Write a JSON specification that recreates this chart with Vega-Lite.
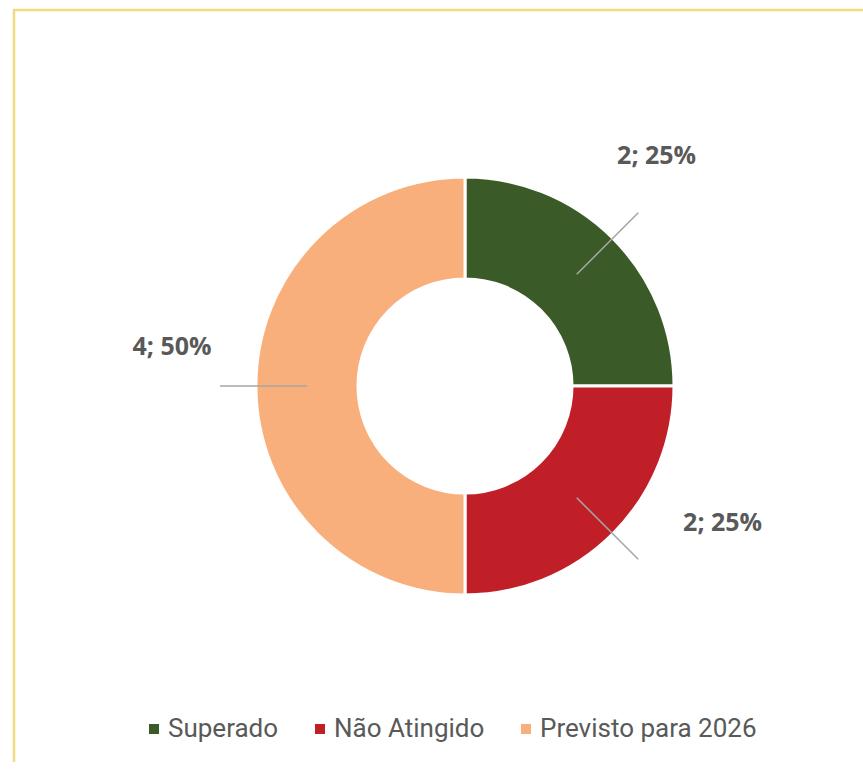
{
  "$schema": "https://vega.github.io/schema/vega-lite/v6.json",
  "width": 902,
  "height": 752,
  "autosize": {"type": "none"},
  "padding": {"left": 14, "top": 10, "right": 0, "bottom": 0},
  "background": "white",
  "view": {"stroke": "#F1DA82", "strokeWidth": 2.5, "strokeDash": [1654, 902, 752]},
  "data": {
    "values": [
      {"categoria": "Superado", "valor": 2, "rotulo": "2; 25%", "ordem": 1},
      {"categoria": "Não Atingido", "valor": 2, "rotulo": "2; 25%", "ordem": 2},
      {"categoria": "Previsto para 2026", "valor": 4, "rotulo": "4; 50%", "ordem": 3}
    ]
  },
  "encoding": {
    "theta": {"field": "valor", "type": "quantitative", "stack": true},
    "order": {"field": "ordem", "type": "quantitative"}
  },
  "layer": [
    {
      "mark": {"type": "arc", "innerRadius": 107, "outerRadius": 209, "stroke": "white", "strokeWidth": 3},
      "encoding": {
        "color": {
          "field": "categoria",
          "type": "nominal",
          "scale": {
            "domain": ["Superado", "Não Atingido", "Previsto para 2026"],
            "range": ["#3A5A27", "#C11F27", "#F8AF7B"]
          },
          "legend": {
            "title": null,
            "orient": "none",
            "legendX": 127,
            "legendY": 706,
            "direction": "horizontal",
            "symbolType": "square",
            "symbolSize": 100,
            "symbolStrokeWidth": 0,
            "labelFont": "Roboto",
            "labelFontSize": 26,
            "labelColor": "#595959",
            "labelOffset": 1,
            "labelLimit": 0,
            "columnPadding": 28
          }
        }
      }
    },
    {
      "mark": {"type": "arc", "innerRadius": 158, "outerRadius": 245, "padAngle": 3.14, "fill": "transparent", "stroke": "#A6A6A6", "strokeWidth": 1.5}
    },
    {
      "mark": {"type": "text", "radius": 295, "dx": -17, "dy": -21, "font": "Open Sans", "fontWeight": "bold", "fontSize": 25, "fill": "#595959", "align": "center", "baseline": "middle"},
      "encoding": {"text": {"condition": {"test": "datum.categoria == 'Superado'", "field": "rotulo"}, "value": ""}}
    },
    {
      "mark": {"type": "text", "radius": 295, "dx": 49, "dy": -72, "font": "Open Sans", "fontWeight": "bold", "fontSize": 25, "fill": "#595959", "align": "center", "baseline": "middle"},
      "encoding": {"text": {"condition": {"test": "datum.categoria == 'Não Atingido'", "field": "rotulo"}, "value": ""}}
    },
    {
      "mark": {"type": "text", "radius": 295, "dx": 2, "dy": -39, "font": "Open Sans", "fontWeight": "bold", "fontSize": 25, "fill": "#595959", "align": "center", "baseline": "middle"},
      "encoding": {"text": {"condition": {"test": "datum.categoria == 'Previsto para 2026'", "field": "rotulo"}, "value": ""}}
    }
  ]
}
